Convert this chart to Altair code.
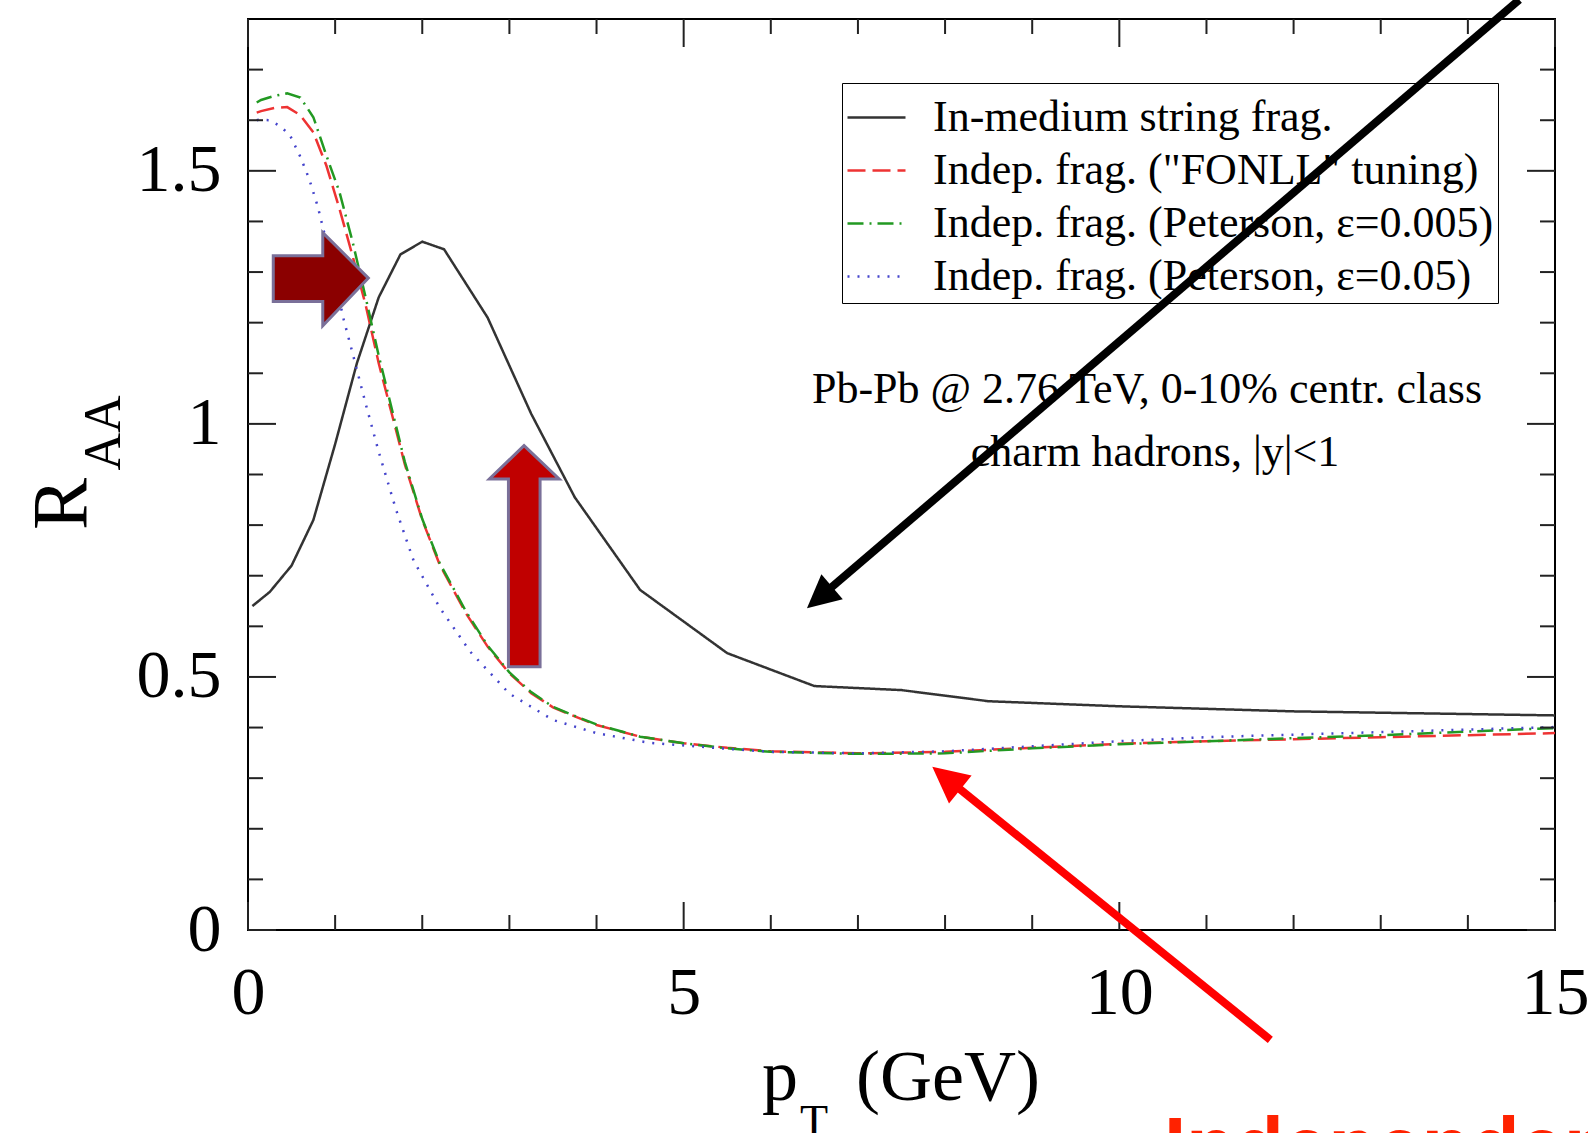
import altair as alt
import pandas as pd

W, H = 1307, 911
PAD_L, PAD_T = 248, 19

# ---------------- data ----------------
series_names = [
    "In-medium string frag.",
    'Indep. frag. ("FONLL" tuning)',
    "Indep. frag. (Peterson, \u03b5=0.005)",
    "Indep. frag. (Peterson, \u03b5=0.05)",
]
series_colors = ["#333333", "#ee3333", "#229922", "#4444cc"]
series_dash = [[1, 0], [18, 7], [16, 6, 2, 6], [2, 8]]

string_pt = [0.05, 0.25, 0.5, 0.75, 1.0, 1.25, 1.5, 1.75, 2.0, 2.25, 2.75, 3.25, 3.75,
             4.5, 5.5, 6.5, 7.5, 8.5, 10.0, 12.0, 13.5, 15.0]
string_raa = [0.64, 0.668, 0.72, 0.81, 0.96, 1.12, 1.25, 1.335, 1.36, 1.345, 1.21, 1.02, 0.855,
              0.672, 0.547, 0.482, 0.474, 0.452, 0.442, 0.432, 0.428, 0.424]

indep_pt = [0.1, 0.15, 0.3, 0.45, 0.6, 0.75, 0.9, 1.05, 1.2, 1.35, 1.5, 1.65, 1.8, 2.0, 2.2,
            2.5, 2.75, 3.0, 3.25, 3.5, 3.75, 4.0, 4.5, 5.0, 5.5, 6.0, 7.0, 8.0, 9.0, 10.0,
            11.0, 12.0, 13.0, 14.0, 15.0]
fonll_raa = [1.615, 1.618, 1.624, 1.626, 1.61, 1.576, 1.51, 1.425, 1.332, 1.235, 1.12, 1.02,
             0.92, 0.81, 0.722, 0.626, 0.56, 0.507, 0.468, 0.44, 0.422, 0.405, 0.382, 0.369,
             0.36, 0.353, 0.349, 0.352, 0.36, 0.368, 0.373, 0.377, 0.381, 0.385, 0.389]
pet005_raa = [1.635, 1.64, 1.648, 1.653, 1.645, 1.606, 1.53, 1.458, 1.36, 1.25, 1.135, 1.03,
              0.925, 0.812, 0.725, 0.63, 0.562, 0.509, 0.47, 0.441, 0.423, 0.406, 0.382,
              0.369, 0.359, 0.352, 0.348, 0.349, 0.359, 0.367, 0.373, 0.379, 0.385, 0.392, 0.399]

pet05_pt = [0.1, 0.12, 0.25, 0.37, 0.48, 0.6, 0.7, 0.8, 0.9, 1.0, 1.1, 1.2, 1.35, 1.5, 1.7,
            1.9, 2.2, 2.55, 3.0, 3.5, 4.0, 4.6, 5.5, 6.0, 7.0, 8.0, 9.0, 10.0, 11.0, 12.0,
            13.0, 14.0, 15.0]
pet05_raa = [1.60, 1.601, 1.60, 1.588, 1.571, 1.528, 1.485, 1.43, 1.36, 1.283, 1.205, 1.14,
             1.04, 0.945, 0.83, 0.73, 0.637, 0.55, 0.467, 0.415, 0.389, 0.37, 0.358, 0.352,
             0.349, 0.353, 0.363, 0.373, 0.381, 0.386, 0.391, 0.396, 0.401]

x_major = [0, 5, 10, 15]
x_minor = [1, 2, 3, 4, 6, 7, 8, 9, 11, 12, 13, 14]
y_major = [0, 0.5, 1, 1.5]
y_minor = [0.1, 0.2, 0.3, 0.4, 0.6, 0.7, 0.8, 0.9, 1.1, 1.2, 1.3, 1.4, 1.6, 1.7]

# annotation shapes (data units)
right_arrow_x = [0.29, 0.858, 0.8581, 1.381]
right_arrow_lo = [1.242, 1.242, 1.194, 1.288]
right_arrow_hi = [1.332, 1.332, 1.378, 1.288]
up_arrow_y = [0.520, 0.891, 0.8911, 0.957]
up_arrow_lo = [2.989, 2.989, 2.770, 3.168]
up_arrow_hi = [3.352, 3.352, 3.571, 3.168]

black_arrow = dict(x=14.59, y=1.838, x2=6.559, y2=0.657)
red_arrow = dict(x=11.733, y=-0.217, x2=8.014, y2=0.300)

SERIF = "Liberation Serif"

# ---------------- scales / axes ----------------
xs = alt.Scale(domain=[0, 15], nice=False, zero=False)
ys = alt.Scale(domain=[0, 1.8], nice=False, zero=False)
x_axis = alt.Axis(
    values=x_major, format="~g", ticks=False, tickSize=0, domain=False, grid=False,
    labelFont=SERIF, labelFontSize=68, labelColor="black", labelPadding=29,
    labelFlush=False, labelOverlap=False, title=None)
y_axis = alt.Axis(
    values=y_major, format="~g", ticks=False, tickSize=0, domain=False, grid=False,
    labelFont=SERIF, labelFontSize=68, labelColor="black", labelPadding=27,
    labelFlush=False, labelOverlap=False, title=None)


def X(f):
    return alt.X(f, type="quantitative", scale=xs, axis=x_axis)


def Y(f):
    return alt.Y(f, type="quantitative", scale=ys, axis=y_axis)


rows = []
for name, pts, vals in [
    (series_names[0], string_pt, string_raa),
    (series_names[1], indep_pt, fonll_raa),
    (series_names[2], indep_pt, pet005_raa),
    (series_names[3], pet05_pt, pet05_raa),
]:
    for p, v in zip(pts, vals):
        rows.append({"series": name, "pt": p, "raa": v})
df = pd.DataFrame(rows)

legend = alt.Legend(
    title=None, orient="none", legendX=594, legendY=64,
    strokeColor="black", padding=4,
    symbolType="stroke", symbolSize=3364, symbolStrokeWidth=2.5,
    labelFont=SERIF, labelFontSize=44, labelColor="black", labelLimit=0,
    labelOffset=26, rowPadding=0,
)

lines = alt.Chart(df).mark_line(strokeWidth=2.5, clip=True).encode(
    x=X("pt"),
    y=Y("raa"),
    color=alt.Color("series:N", scale=alt.Scale(domain=series_names, range=series_colors),
                    legend=legend),
    strokeDash=alt.StrokeDash("series:N", scale=alt.Scale(domain=series_names, range=series_dash),
                              legend=legend),
)

# ---------------- ticks (inward, on all four sides) ----------------
TICK = dict(color="#222222", strokeWidth=2)
MAJ, MIN = 28, 15
dxmaj = pd.DataFrame({"v": x_major})
dxmin = pd.DataFrame({"v": x_minor})
dymaj = pd.DataFrame({"v": y_major})
dymin = pd.DataFrame({"v": y_minor})

ticks = []
for d, L in [(dxmaj, MAJ), (dxmin, MIN)]:
    ticks.append(alt.Chart(d).mark_rule(**TICK).encode(x=X("v"), y=alt.value(H), y2=alt.value(H - L)))
    ticks.append(alt.Chart(d).mark_rule(**TICK).encode(x=X("v"), y=alt.value(0), y2=alt.value(L)))
for d, L in [(dymaj, MAJ), (dymin, MIN)]:
    ticks.append(alt.Chart(d).mark_rule(**TICK).encode(y=Y("v"), x=alt.value(0), x2=alt.value(L)))
    ticks.append(alt.Chart(d).mark_rule(**TICK).encode(y=Y("v"), x=alt.value(W), x2=alt.value(W - L)))

# ---------------- texts ----------------
one = pd.DataFrame({"a": [0]})


def txt(text, x, y, size, angle=0, align="left", font=SERIF, weight="normal", color="black"):
    return alt.Chart(one).mark_text(
        text=text, font=font, fontSize=size, fontWeight=weight, color=color,
        align=align, baseline="alphabetic", angle=angle,
    ).encode(x=alt.value(x - PAD_L), y=alt.value(y - PAD_T))


texts = [
    txt("R", 86, 504, 78, angle=270, align="center"),
    txt("AA", 120, 433, 52, angle=270, align="center"),
    txt("p", 762, 1100, 72),
    txt("T", 800, 1137, 46),
    txt("(GeV)", 856, 1100, 72),
    txt("Pb-Pb @ 2.76 TeV, 0-10% centr. class", 1147, 403, 44, align="center"),
    txt("charm hadrons, |y|<1", 1155, 466, 44, align="center"),
    txt("Independent frag.", 1164, 1173, 80, font="Liberation Sans", weight="bold", color="#ff2200"),
]

# ---------------- block arrows ----------------
d_right = pd.DataFrame({"x": right_arrow_x, "lo": right_arrow_lo, "hi": right_arrow_hi})
right_arrow = alt.Chart(d_right).mark_area(
    fill="#8b0000", stroke="#7a7099", strokeWidth=3, interpolate="linear", opacity=1,
    fillOpacity=1, clip=False).encode(x=X("x"), y=Y("lo"), y2=alt.Y2("hi"))

d_up = pd.DataFrame({"y": up_arrow_y, "lo": up_arrow_lo, "hi": up_arrow_hi})
up_arrow = alt.Chart(d_up).mark_area(
    fill="#c00000", stroke="#7a7099", strokeWidth=3, interpolate="linear", orient="horizontal",
    opacity=1, fillOpacity=1, clip=False).encode(y=Y("y"), x=X("lo"), x2=alt.X2("hi"))

# ---------------- pointer arrows ----------------
HEAD = "M0,-1L1,1L-1,1Z"


def pointer(a, color, head_size, angle):
    d = pd.DataFrame([a])
    line = alt.Chart(d).mark_rule(color=color, strokeWidth=8, strokeCap="butt").encode(
        x=X("x"), y=Y("y"), x2=alt.X2("x2"), y2=alt.Y2("y2"))
    head = alt.Chart(d).mark_point(
        shape=HEAD, size=head_size, angle=angle, filled=True, fill=color, opacity=1,
        strokeWidth=0).encode(x=X("x2"), y=Y("y2"))
    return [line, head]


arrows = pointer(black_arrow, "black", 1089, 229.6) + pointer(red_arrow, "#ff0000", 1296, 308.9)

chart = alt.layer(lines, *ticks, *texts, right_arrow, up_arrow, *arrows).properties(
    width=W, height=H,
    autosize=alt.AutoSizeParams(type="none"),
    padding={"left": PAD_L, "top": PAD_T, "right": 1588 - PAD_L - W, "bottom": 1133 - PAD_T - H},
    background="white",
).configure_view(stroke="black", strokeWidth=2)

chart.save("out.html", embed_options={"renderer": "svg", "actions": False})
